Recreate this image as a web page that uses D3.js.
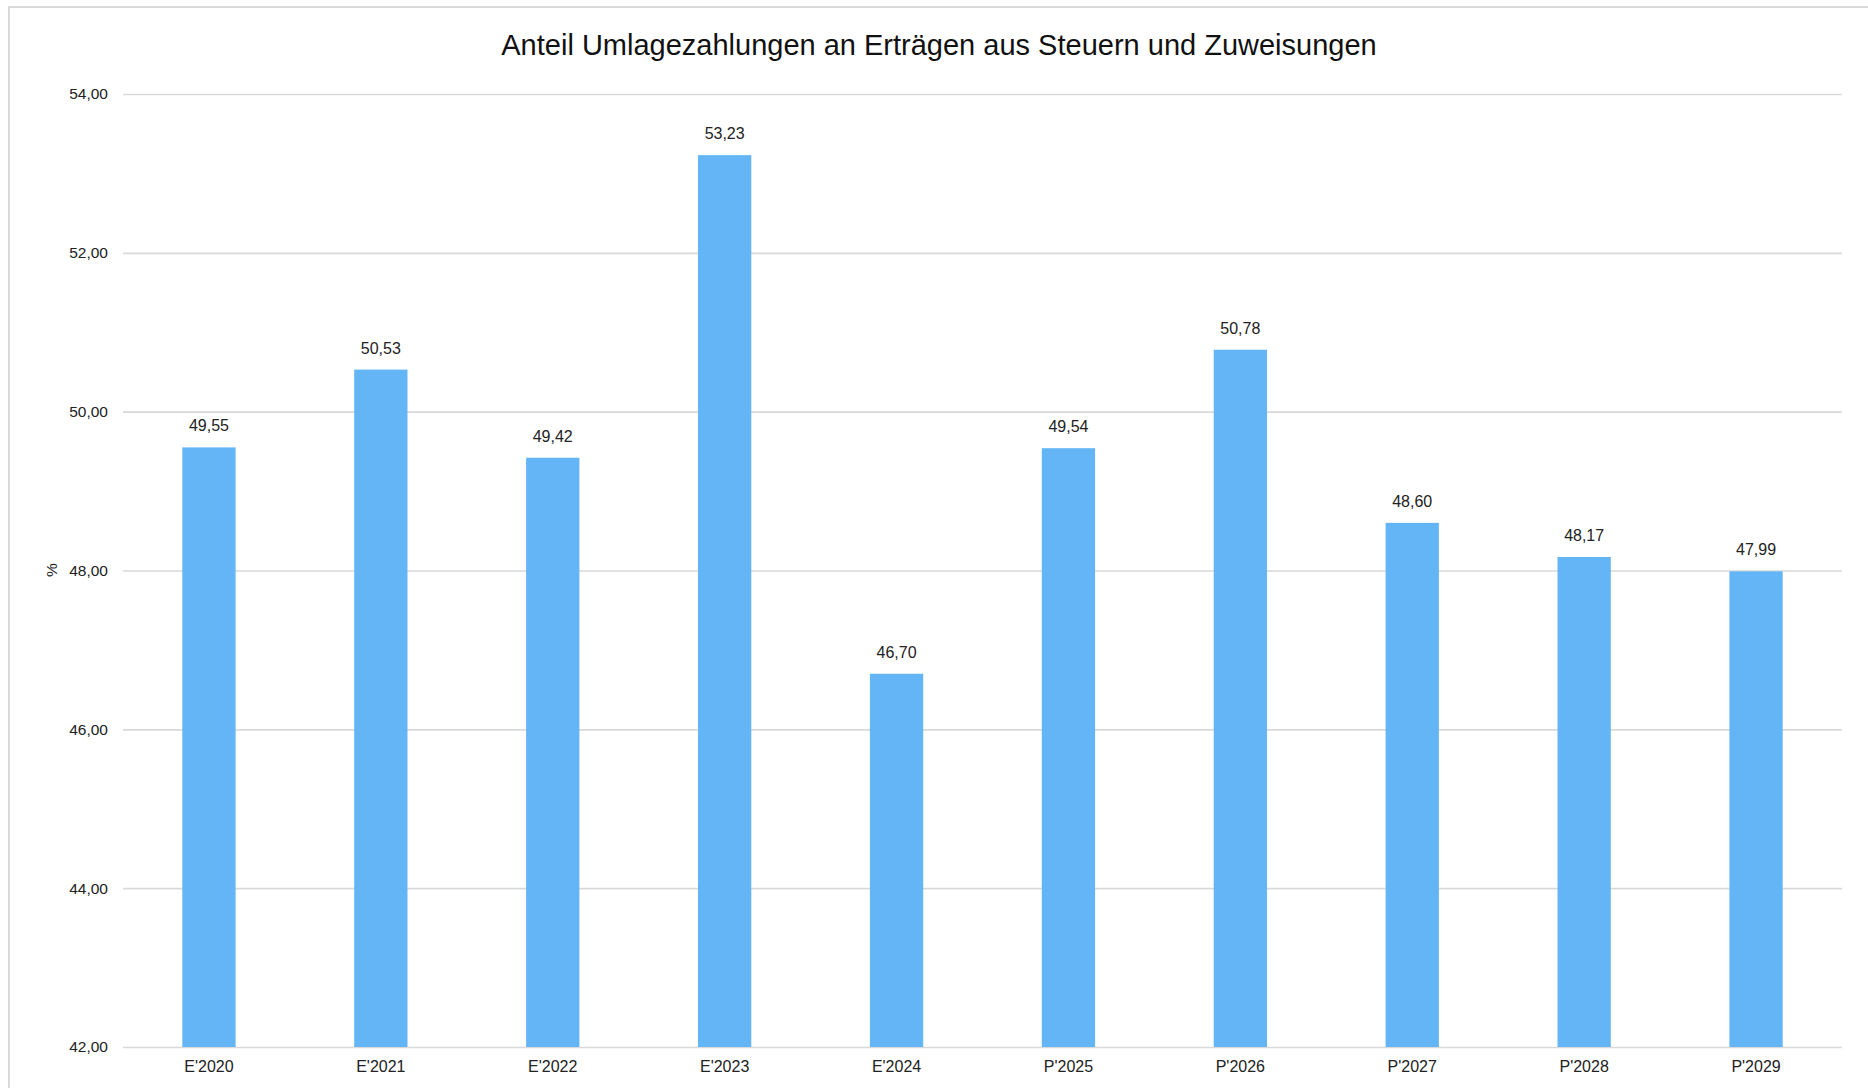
<!DOCTYPE html>
<html>
<head>
<meta charset="utf-8">
<script src="https://cdn.jsdelivr.net/npm/d3@7"></script>
<style>
  html, body { margin: 0; padding: 0; background: #fff; }
  svg { display: block; font-family: "Liberation Sans", Arial, sans-serif; }
</style>
</head>
<body>
<svg id="chart" width="1868" height="1088"></svg>
<script>
const categories = ["E'2020", "E'2021", "E'2022", "E'2023", "E'2024", "P'2025", "P'2026", "P'2027", "P'2028", "P'2029"];
const values = [49.55, 50.53, 49.42, 53.23, 46.70, 49.54, 50.78, 48.60, 48.17, 47.99];
const yTicks = [42, 44, 46, 48, 50, 52, 54];

const title = 'Anteil Umlagezahlungen an Erträgen aus Steuern und Zuweisungen';
const fmt = v => d3.format('.2f')(v).replace('.', ',');

const svg = d3.select('#chart');
const margin = {left: 123, right: 26, top: 94, bottom: 41};
const width = 1868, height = 1088;

// outer frame (only left and top edges visible in the crop)
svg.append('rect')
  .attr('x', 9).attr('y', 7)
  .attr('width', width + 20).attr('height', height + 20)
  .attr('fill', 'none')
  .attr('stroke', '#d9d9d9')
  .attr('stroke-width', 2);

const x = d3.scaleBand()
  .domain(categories)
  .range([margin.left, width - margin.right])
  .paddingInner(0.69)
  .paddingOuter(0.345);

const y = d3.scaleLinear()
  .domain([42, 54])
  .range([height - margin.bottom, margin.top]);

// gridlines + y labels
const yAxis = svg.append('g')
  .attr('transform', `translate(${margin.left},0)`)
  .call(d3.axisLeft(y).tickValues(yTicks).tickFormat(fmt).tickSize(-(width - margin.left - margin.right)).tickPadding(15));
yAxis.select('.domain').remove();
yAxis.selectAll('.tick line').attr('stroke', '#d9d9d9').attr('stroke-width', 1.6);
yAxis.selectAll('.tick text').attr('fill', '#222').attr('font-size', '15.5px');

// bars
svg.append('g')
  .selectAll('rect')
  .data(values)
  .join('rect')
  .attr('x', (d, i) => x(categories[i]))
  .attr('y', d => y(d))
  .attr('width', x.bandwidth())
  .attr('height', d => y(42) - y(d))
  .attr('fill', '#64b5f6');

// value labels
svg.append('g')
  .selectAll('text')
  .data(values)
  .join('text')
  .attr('x', (d, i) => x(categories[i]) + x.bandwidth() / 2)
  .attr('y', d => y(d) - 16)
  .attr('text-anchor', 'middle')
  .attr('fill', '#222')
  .attr('font-size', '16px')
  .text(fmt);

// x axis labels
const xAxis = svg.append('g')
  .attr('transform', `translate(0,${height - margin.bottom})`)
  .call(d3.axisBottom(x).tickSize(0).tickPadding(14));
xAxis.select('.domain').remove();
xAxis.selectAll('.tick text').attr('fill', '#222').attr('font-size', '16px');

// y axis title
svg.append('text')
  .attr('transform', 'translate(57,570) rotate(-90)')
  .attr('text-anchor', 'middle')
  .attr('fill', '#222')
  .attr('font-size', '15.5px')
  .text('%');

// chart title
svg.append('text')
  .attr('x', 939)
  .attr('y', 55)
  .attr('text-anchor', 'middle')
  .attr('fill', '#111')
  .attr('font-size', '29px')
  .text(title);
</script>
</body>
</html>
